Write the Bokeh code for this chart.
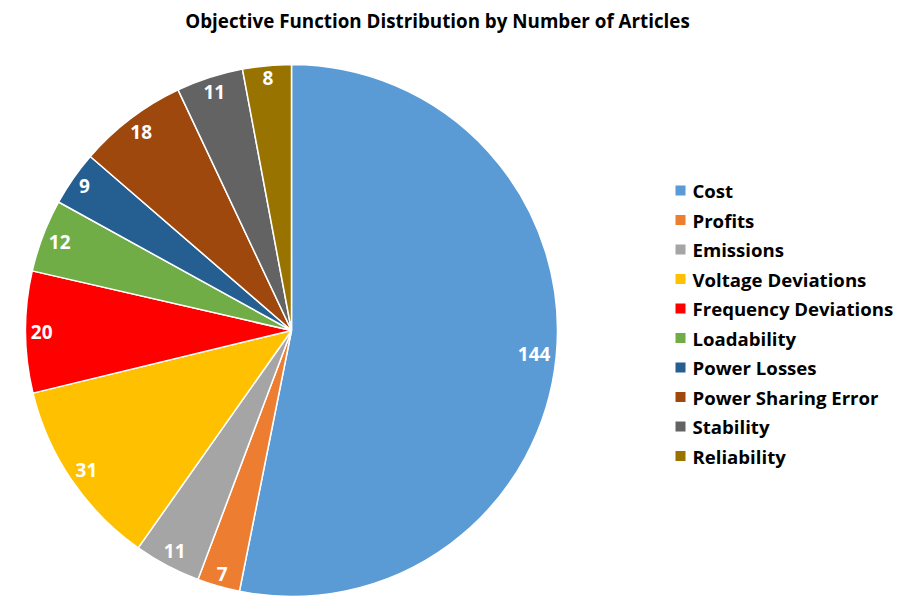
import math
import numpy as np
from bokeh.plotting import figure
from bokeh.models import ColumnDataSource, Range1d
from bokeh.core.properties import value
from bokeh.embed import file_html
from bokeh.resources import INLINE

title = "Objective Function Distribution by Number of Articles"
categories = ["Cost", "Profits", "Emissions", "Voltage Deviations", "Frequency Deviations",
              "Loadability", "Power Losses", "Power Sharing Error", "Stability", "Reliability"]
counts = [144, 7, 11, 31, 20, 12, 9, 18, 11, 8]
colors = ["#5B9BD5", "#ED7D31", "#A5A5A5", "#FFC000", "#FF0000",
          "#70AD47", "#255E91", "#9E480E", "#636363", "#997300"]

W, H = 900, 597
FONT = "Open Sans"
cx, cy = 291, H - 330
R = 266

vals = np.array(counts, dtype=float)
frac = vals / vals.sum()
cum_end = np.cumsum(frac) * 2 * math.pi
cum_start = cum_end - frac * 2 * math.pi
# clockwise from 12 o'clock
start = math.pi / 2 - cum_start
end = math.pi / 2 - cum_end
mid = (cum_start + cum_end) / 2

# place each label box "inside end": largest radius whose box fits in the pie
labels = [str(c) for c in counts]
DIGIT_W, BOX_H, PAD = 11.0, 14.0, 5.0
lx, ly = [], []
for m, lab in zip(mid, labels):
    dx, dy = math.sin(m), math.cos(m)
    hw, hh = len(lab) * DIGIT_W / 2, BOX_H / 2
    lo, hi = 0.0, R
    for _ in range(40):
        r = (lo + hi) / 2
        far = max(math.hypot(r * dx + sx * hw, r * dy + sy * hh)
                  for sx in (-1, 1) for sy in (-1, 1))
        if far <= R - PAD:
            lo = r
        else:
            hi = r
    lx.append(cx + lo * dx)
    ly.append(cy + lo * dy)

src = ColumnDataSource(dict(cat=categories, n=counts, color=colors,
                            start=start, end=end, lx=lx, ly=ly, lab=labels))

p = figure(width=W, height=H, output_backend="svg", toolbar_location=None,
           x_range=Range1d(0, W), y_range=Range1d(0, H), min_border=0)
p.axis.visible = False
p.grid.visible = False
p.outline_line_color = None
p.background_fill_color = "white"
p.border_fill_color = "white"

p.wedge(x=cx, y=cy, radius=R, start_angle="start", end_angle="end", direction="clock",
        fill_color="color", line_color="white", line_width=1.5, source=src)

p.text(x="lx", y="ly", text="lab", source=src, text_color="white",
       text_font=value(FONT), text_font_style="bold", text_font_size="19px",
       text_align="center", text_baseline="middle")

# title
p.text(x=[437], y=[H - 20], text=[title], text_font=value(FONT), text_font_style="bold",
       text_font_size="18.8px", text_align="center", text_baseline="middle", text_color="black")

# legend
idx = np.arange(len(categories))
leg_y = H - (190 + idx * 29.5)
p.scatter(x=[680] * len(categories), y=leg_y, marker="square", size=10,
          fill_color=colors, line_color=None)
p.text(x=[692] * len(categories), y=leg_y, text=categories, text_font=value(FONT),
       text_font_style="bold", text_font_size="18.6px", text_baseline="middle",
       text_color="black")

open("out.html", "w").write(file_html(p, INLINE))
